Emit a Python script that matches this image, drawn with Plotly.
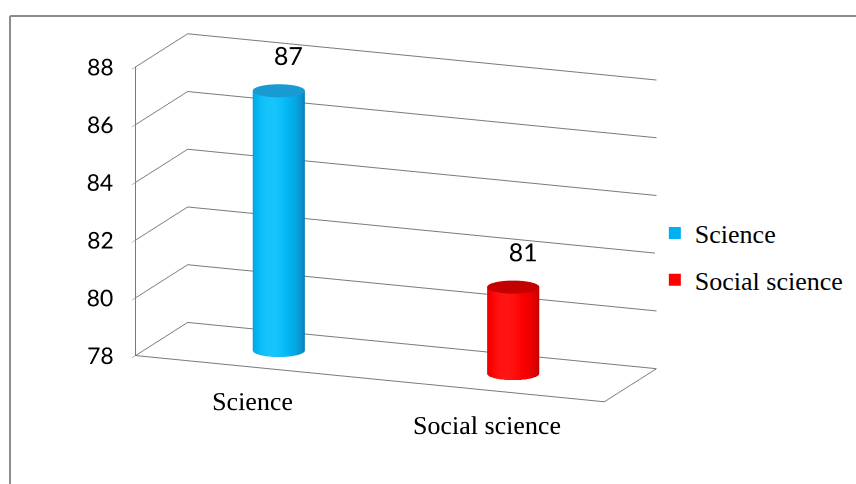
import numpy as np
import plotly.graph_objects as go

# --- chart data ---
categories = ["Science", "Social science"]
values = [87, 81]
z_ticks = [78, 80, 82, 84, 86, 88]
z_min, z_max = 78, 88

# --- styling ---
side_scales = [
    [[0, "#07729f"], [0.45, "#0a92cb"], [0.85, "#02b6f2"], [1, "#16c4fb"]],
    [[0, "#b00000"], [0.45, "#dc0000"], [0.85, "#fb0000"], [1, "#ff1414"]],
]
top_colors = ["#1a9ad2", "#c40000"]
legend_colors = ["#00b0f0", "#ff0000"]
line_grey = "#7a7a7a"
serif = "Liberation Serif, Times New Roman, serif"

ZOOM = 1.232
ASPECT = dict(x=1.69 * ZOOM, y=0.477 * ZOOM, z=1.0 * ZOOM)
x_pos = np.arange(len(categories)) + 0.5          # category centres on the x axis
r_phys = 0.0875 * ZOOM                            # cylinder radius in aspect units
rx = r_phys / (ASPECT["x"] / len(categories))
ry = r_phys / ASPECT["y"]
depth_c = 0.5
label_pad = 1.0                                   # gap between cylinder top and its value label

# camera: azimuth ~21.5 deg to the right, elevation ~14.5 deg
phi, elev = np.radians(21.5), np.radians(14.5)
view = np.array([np.sin(phi) * np.cos(elev), -np.cos(phi) * np.cos(elev), np.sin(elev)])
up_vec = np.array([-np.sin(phi) * np.sin(elev), np.cos(phi) * np.sin(elev), np.cos(elev)])
shift = -0.1 * up_vec
eye = view * 1.548 + shift
center = shift

view_ang = np.arctan2(view[1], view[0]) - 0.3

fig = go.Figure()

theta = np.linspace(0, 2 * np.pi, 97)
for i, (cat, v) in enumerate(zip(categories, values)):
    # side wall of the cylinder
    zz = np.array([z_min, v])
    TH, ZZ = np.meshgrid(theta, zz)
    shade = np.cos(TH - view_ang)
    fig.add_trace(go.Surface(
        x=x_pos[i] + rx * np.cos(TH), y=depth_c + ry * np.sin(TH), z=ZZ,
        surfacecolor=shade, cmin=-0.4, cmax=1,
        colorscale=side_scales[i], showscale=False,
        lighting=dict(ambient=1, diffuse=0, specular=0, fresnel=0),
        hoverinfo="skip", showlegend=False))
    # top cap
    TH2, RR = np.meshgrid(theta, np.array([0, 1]))
    fig.add_trace(go.Surface(
        x=x_pos[i] + rx * RR * np.cos(TH2),
        y=depth_c + ry * RR * np.sin(TH2),
        z=np.full(TH2.shape, v), surfacecolor=np.zeros(TH2.shape),
        colorscale=[[0, top_colors[i]], [1, top_colors[i]]], showscale=False,
        lighting=dict(ambient=1, diffuse=0, specular=0, fresnel=0),
        hoverinfo="skip", showlegend=False))
    # value label
    fig.add_trace(go.Scatter3d(
        x=[x_pos[i]], y=[depth_c + ry], z=[v + label_pad], mode="text",
        text=[str(v)], textposition="middle center",
        textfont=dict(family="Lato", size=25, color="#000000"),
        hoverinfo="skip", showlegend=False))
    # legend entry
    fig.add_trace(go.Scatter3d(
        x=[None], y=[None], z=[None], mode="markers", name=cat,
        marker=dict(symbol="square", size=12, color=legend_colors[i]),
        legendgroup=cat))

# category names under the front edge of the floor
fig.add_trace(go.Scatter3d(
    x=list(x_pos), y=[0] * len(categories), z=[z_min] * len(categories),
    mode="text", text=categories, textposition="bottom center",
    textfont=dict(family=serif, size=26, color="#000000"),
    hoverinfo="skip", showlegend=False))

# value-axis labels beside the front-left edge
fig.add_trace(go.Scatter3d(
    x=[0] * len(z_ticks), y=[0] * len(z_ticks), z=z_ticks,
    mode="text", text=[str(t) for t in z_ticks], textposition="middle left",
    textfont=dict(family="Lato", size=23, color="#000000"),
    hoverinfo="skip", showlegend=False))

axis_common = dict(showbackground=False, showspikes=False, title=dict(text=""),
                   linecolor=line_grey, linewidth=2, zeroline=False,
                   showticklabels=False)

fig.update_layout(
    width=856, height=484,
    margin=dict(l=0, r=0, t=0, b=0),
    paper_bgcolor="white",
    showlegend=True,
    legend=dict(x=0.765, y=0.47, xanchor="left", yanchor="middle",
                font=dict(family=serif, size=26, color="#000000"),
                tracegroupgap=10, itemsizing="constant"),
    scene=dict(
        domain=dict(x=[0.0, 0.925], y=[0.0, 1.0]),
        aspectmode="manual", aspectratio=ASPECT,
        camera=dict(eye=dict(x=eye[0], y=eye[1], z=eye[2]),
                    center=dict(x=center[0], y=center[1], z=center[2]),
                    up=dict(x=0, y=0, z=1),
                    projection=dict(type="orthographic")),
        xaxis=dict(range=[0, len(categories)], showgrid=False, showline=True, ticks="",
                   **axis_common),
        yaxis=dict(range=[0, 1], showgrid=False, showline=True, ticks="", **axis_common),
        zaxis=dict(range=[z_min, z_max], tickvals=z_ticks, showgrid=True,
                   gridcolor=line_grey, gridwidth=2, showline=True, ticks="outside",
                   ticklen=8, tickcolor=line_grey, **axis_common),
    ),
    shapes=[
        dict(type="line", xref="paper", yref="paper", x0=10/856, x1=1, y0=1-16/484, y1=1-16/484,
             line=dict(color="#8c8c8c", width=2)),
        dict(type="line", xref="paper", yref="paper", x0=10/856, x1=10/856, y0=0, y1=1-16/484,
             line=dict(color="#8c8c8c", width=2)),
    ],
)

fig.write_html("out.html")
